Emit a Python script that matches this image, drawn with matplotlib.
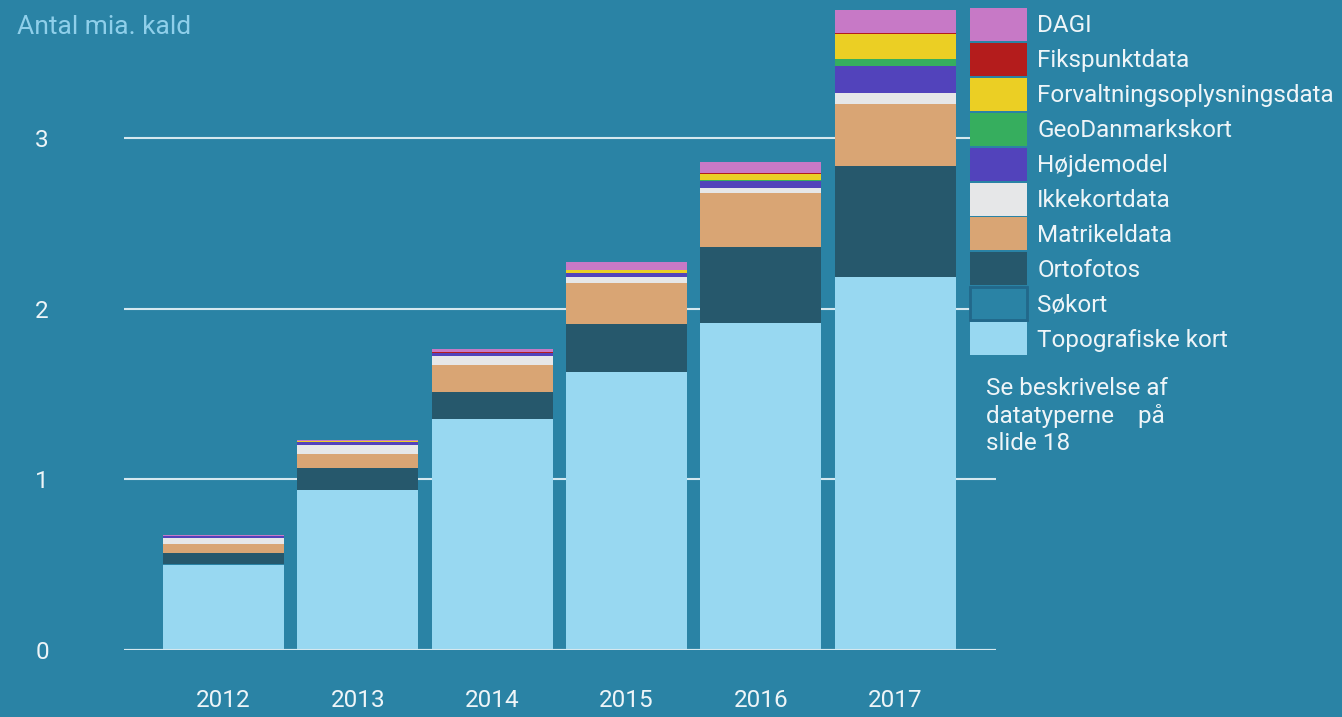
import numpy as np
import matplotlib
matplotlib.use("Agg")
import matplotlib.pyplot as plt
from matplotlib.patches import Patch

plt.rcParams['font.family'] = ['Roboto', 'DejaVu Sans']

years = ["2012", "2013", "2014", "2015", "2016", "2017"]

# values in billions of calls (bottom of stack first)
topografiske = [0.498, 0.937, 1.353, 1.629, 1.916, 2.185]
soekort = [0.006, 0.002, 0.002, 0.002, 0.002, 0.003]
ortofotos = [0.064, 0.129, 0.158, 0.281, 0.445, 0.650]
matrikel = [0.053, 0.082, 0.158, 0.240, 0.316, 0.363]
ikkekort = [0.037, 0.053, 0.053, 0.035, 0.029, 0.064]
hoejdemodel = [0.008, 0.018, 0.018, 0.023, 0.041, 0.158]
geodanmark = [0.0, 0.0, 0.0, 0.0, 0.006, 0.041]
forvaltning = [0.004, 0.006, 0.0, 0.018, 0.035, 0.146]
fikspunkt = [0.0, 0.0, 0.006, 0.0, 0.006, 0.006]
dagi = [0.006, 0.006, 0.018, 0.047, 0.064, 0.135]

series = [
    ("Topografiske kort", topografiske, "#98d8f1"),
    ("Søkort", soekort, "#2a83a5"),
    ("Ortofotos", ortofotos, "#26586c"),
    ("Matrikeldata", matrikel, "#d9a574"),
    ("Ikkekortdata", ikkekort, "#e6e7e8"),
    ("Højdemodel", hoejdemodel, "#5243bb"),
    ("GeoDanmarkskort", geodanmark, "#36ae5e"),
    ("Forvaltningsoplysningsdata", forvaltning, "#ebcf24"),
    ("Fikspunktdata", fikspunkt, "#b41c1c"),
    ("DAGI", dagi, "#c779c6"),
]

bg = "#2a83a5"
txt = "#eef5f8"
fs = 17.5

fig = plt.figure(figsize=(13.42, 7.17), dpi=100, facecolor=bg)
ax = fig.add_axes([124 / 1342, 67 / 717, 872 / 1342, 650 / 717])
ax.set_facecolor(bg)

x = np.arange(len(years))
bottom = np.zeros(len(years))
for name, vals, col in series:
    ax.bar(x, vals, width=0.9, bottom=bottom, color=col, linewidth=0, zorder=3)
    bottom += np.array(vals)

ax.set_xlim(-0.74, 5.75)
ax.set_ylim(0, 3.808)
ax.set_yticks([0, 1, 2, 3])
ax.set_yticklabels(["0", "1", "2", "3"])
ax.yaxis.grid(True, color="#d5e8ef", linewidth=1.5, zorder=0)
ax.set_axisbelow(True)
ax.set_xticks(x)
ax.set_xticklabels(years)
ax.tick_params(axis="y", length=0, pad=54, labelsize=fs, labelcolor=txt)
ax.tick_params(axis="x", length=0, pad=28, labelsize=fs, labelcolor=txt)
for s in ax.spines.values():
    s.set_visible(False)
ax.axhline(0, color="#d5e8ef", linewidth=1.5, zorder=4)

fig.text(17 / 1342, 1 - 27 / 717, "Antal mia. kald", color="#8fcfea",
         fontsize=19, va="center", ha="left")

handles = []
for name, vals, col in reversed(series):
    if name == "Søkort":
        handles.append(Patch(facecolor=col, edgecolor="#22688a", linewidth=2, label=name))
    else:
        handles.append(Patch(facecolor=col, edgecolor="none", label=name))
fig.legend(handles=handles, loc="upper left",
           bbox_to_anchor=(970 / 1342, 1 - 8 / 717), frameon=False,
           fontsize=fs, labelcolor=txt, handlelength=2.35, handleheight=1.71,
           labelspacing=0.08, handletextpad=0.42, borderpad=0, borderaxespad=0)

fig.text(986 / 1342, 1 - 416 / 717,
         "Se beskrivelse af\ndatatyperne    på\nslide 18",
         color=txt, fontsize=fs, va="center", ha="left", linespacing=1.2)

fig.savefig("out.png", dpi=100, facecolor=bg)
